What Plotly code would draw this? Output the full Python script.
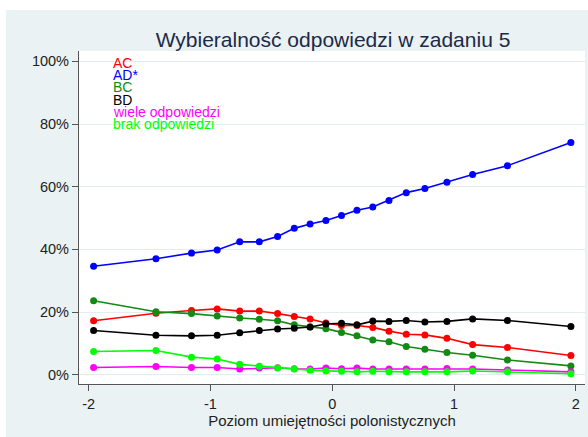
import plotly.graph_objects as go

# poziom umiejetnosci (x) i odsetek wyborow w % dla kazdej odpowiedzi
poziom = [-1.96, -1.448, -1.156, -0.945, -0.760, -0.599, -0.449, -0.312, -0.182, -0.052,
          0.076, 0.203, 0.333, 0.466, 0.608, 0.761, 0.942, 1.153, 1.439, 1.96]

ac = [17.2, 19.6, 20.5, 21.0, 20.3, 20.3, 19.5, 18.6, 17.8, 16.5,
      15.7, 15.7, 15.1, 13.9, 12.9, 12.7, 11.6, 9.6, 8.7, 6.1]
ad = [34.6, 37.0, 38.8, 39.8, 42.4, 42.4, 44.1, 46.7, 48.1, 49.2,
      50.8, 52.5, 53.5, 55.6, 58.1, 59.4, 61.4, 63.9, 66.7, 74.1]
bc = [23.6, 20.1, 19.5, 18.7, 18.1, 17.7, 17.2, 15.9, 15.2, 14.7,
      13.5, 12.4, 11.1, 10.5, 9.0, 8.1, 7.1, 6.2, 4.7, 2.8]
bd = [14.1, 12.6, 12.4, 12.6, 13.4, 14.1, 14.6, 14.8, 15.2, 16.2,
      16.4, 15.9, 17.1, 17.0, 17.3, 16.8, 17.0, 17.8, 17.3, 15.4]
wiele = [2.3, 2.6, 2.3, 2.3, 1.8, 2.1, 2.2, 1.9, 1.8, 2.1,
         1.9, 2.1, 1.8, 1.8, 1.8, 1.8, 2.0, 1.8, 1.5, 0.9]
brak = [7.4, 7.7, 5.6, 5.0, 3.3, 2.7, 2.1, 1.8, 1.4, 1.2,
        1.1, 0.9, 1.1, 0.9, 0.9, 0.9, 0.9, 1.2, 0.9, 0.3]

nazwy = ["AC", "AD*", "BC", "BD", "wiele odpowiedzi", "brak odpowiedzi"]
serie = [ac, ad, bc, bd, wiele, brak]
kolory = ["#ff0000", "#0000ff", "#138a13", "#000000", "#ff00ff", "#00ff00"]

x_ticks = [-2, -1, 0, 1, 2]
x_labels = ["-2", "-1", "0", "1", "2"]
y_ticks = [0, 20, 40, 60, 80, 100]
y_labels = ["0%", "20%", "40%", "60%", "80%", "100%"]

FONT = "Liberation Sans, Arial, sans-serif"
BG = "#eaf2f3"

fig = go.Figure()

for nazwa, vals, kol in zip(nazwy, serie, kolory):
    fig.add_trace(go.Scatter(
        x=poziom, y=vals, name=nazwa, mode="lines+markers",
        line=dict(color=kol, width=1.6),
        marker=dict(color=kol, size=7),
    ))

# pixel geometry of plot area
W, H = 588, 437
L, R, T, B = 79, 3, 51, 53
pw, ph = W - L - R, H - T - B


def px_x(p):
    return (p - L) / pw


def px_y(p):
    return (H - B - p) / ph


shapes = [
    # grey frame behind everything, leaving white strips top and left
    dict(type="rect", xref="paper", yref="paper", x0=px_x(6), x1=px_x(W + 5),
         y0=px_y(H + 5), y1=px_y(10), fillcolor=BG, line_width=0, layer="below"),
    dict(type="rect", xref="paper", yref="paper", x0=0, x1=1, y0=0, y1=1,
         fillcolor="white", line_width=0, layer="below"),
]

# coloured text legend in upper-left corner
annotations = []
for i, (nazwa, kol) in enumerate(zip(nazwy, kolory)):
    annotations.append(dict(
        text=nazwa, xref="paper", yref="paper", x=px_x(111), y=px_y(62.5 + 12.4 * i),
        xanchor="left", yanchor="middle", showarrow=False,
        font=dict(family=FONT, size=14, color=kol),
    ))

fig.update_layout(
    width=W, height=H,
    margin=dict(l=L, r=R, t=T, b=B),
    paper_bgcolor="white", plot_bgcolor="white",
    showlegend=False,
    font=dict(family=FONT, size=14.5, color="#222222"),
    title=dict(text="Wybieralność odpowiedzi w zadaniu 5", x=px_x(333), xanchor="center",
               xref="paper", yref="container", y=1 - 40 / H, yanchor="middle",
               font=dict(family=FONT, size=21, color="#1c2a48")),
    shapes=shapes,
    annotations=annotations,
)

fig.update_xaxes(
    range=[-2.08, 2.076], tickvals=x_ticks, ticktext=x_labels, ticks="outside", ticklen=6,
    tickcolor="#555555", showline=True, linecolor="#555555", linewidth=1.2,
    showgrid=False, zeroline=False,
    title=dict(text="Poziom umiejętności polonistycznych", standoff=3,
               font=dict(family=FONT, size=15, color="#222222")),
)
fig.update_yaxes(
    range=[-2.97, 103.3], tickvals=y_ticks, ticktext=y_labels, ticks="outside", ticklen=6,
    tickcolor="#555555", showline=True, linecolor="#555555", linewidth=1.2,
    showgrid=True, gridcolor="#e3edf0", gridwidth=1, zeroline=False,
)

fig.write_html("out.html", config={"displayModeBar": False},
               post_script="document.body.style.margin='0';")
